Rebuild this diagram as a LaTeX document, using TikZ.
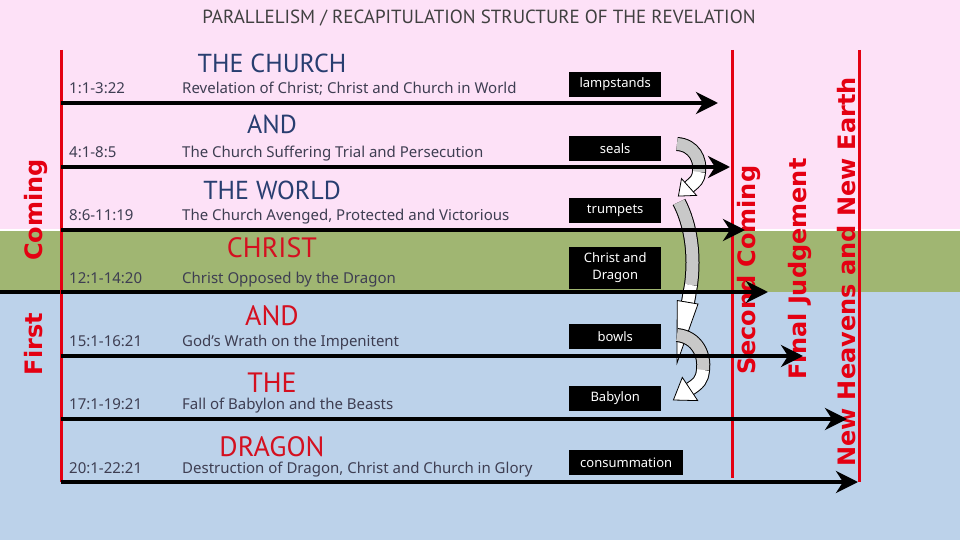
\documentclass[tikz,border=0pt]{standalone}
\usepackage{fontspec}
\setmainfont{PT Sans}
\setsansfont{DejaVu Sans}
\newfontfamily\notof{Noto Sans}
\usepackage{tikz}
\usetikzlibrary{arrows.meta}

\definecolor{bgpink}{RGB}{253,225,247}
\definecolor{bggreen}{RGB}{160,182,114}
\definecolor{bgblue}{RGB}{188,210,234}
\definecolor{vred}{RGB}{228,0,18}
\definecolor{headblue}{RGB}{40,62,112}
\definecolor{headred}{RGB}{212,16,32}
\definecolor{txtgray}{RGB}{62,62,82}
\definecolor{titlegray}{RGB}{64,64,64}
\definecolor{bandgray}{RGB}{200,200,200}

\tikzset{
  hdrblue/.style={anchor=base, inner sep=0pt, text=headblue, font=\fontsize{26}{26}\selectfont},
  hdrred/.style={anchor=base, inner sep=0pt, text=headred, font=\fontsize{28}{28}\selectfont},
  reftext/.style={anchor=base west, inner sep=0pt, text=txtgray, font=\notof\fontsize{15}{15}\selectfont},
  desctext/.style={anchor=base west, inner sep=0pt, text=txtgray, font=\notof\fontsize{15}{15}\selectfont},
  tagbox/.style={anchor=south west, fill=black, text=white, inner sep=0pt, minimum width=92pt, minimum height=25pt, align=center, font=\notof\fontsize{13}{17}\selectfont},
  vtext/.style={rotate=90, anchor=base, inner sep=0pt, text=vred, font=\fontsize{24}{24}\selectfont\sffamily\bfseries},
  redline/.style={draw=vred, line width=3pt},
  rowarrow/.style={line width=4.5pt, -{Stealth[length=22pt,width=22pt,inset=7pt]}},
  bandout/.style={draw=black, line width=14pt},
  bandgrey/.style={draw=bandgray, line width=12pt},
  bandwhite/.style={draw=white, line width=12pt},
  bandhead/.style={fill=white, draw=black, line width=0.8pt}
}

\begin{document}
\begin{tikzpicture}[x=1pt, y=-1pt]
\useasboundingbox (0,0) rectangle (960,540);
% background bands
\fill[bgpink] (0,0) rectangle (960,230);
\fill[bggreen] (0,230) rectangle (960,292);
\fill[bgblue] (0,292) rectangle (960,540);
\draw[white, line width=1.5pt] (0,230) -- (960,230);
\draw[black, line width=4pt] (0,292) -- (61,292);

\node[anchor=base, inner sep=0pt, text=titlegray, font=\fontsize{19}{19}\selectfont] (title) at (479,24) {PARALLELISM / RECAPITULATION STRUCTURE OF THE REVELATION};

% vertical labels
\node[vtext] (first) at (42,344) {First};
\node[vtext] (coming) at (42,210) {Coming};
\node[vtext] (second) at (755,270) {Second Coming};
\node[vtext] (final) at (806,269) {Final Judgement};
\node[vtext] (newhe) at (855,272) {New Heavens and New Earth};

\draw[redline] (61,50) -- (61,482);
\draw[redline] (732,50) -- (732,478);
\draw[redline] (859,50) -- (859,482);

% rows
\node[hdrblue] (hd1) at (272,73) {THE CHURCH};
\node[reftext] (rf1) at (69,93.5) {1:1-3:22};
\node[desctext] (ds1) at (182,93.5) {Revelation of Christ; Christ and Church in World};
\node[tagbox] (tg1) at (569,97) {lampstands};

\node[hdrblue] (hd2) at (272,134) {AND};
\node[reftext] (rf2) at (69,157.5) {4:1-8:5};
\node[desctext] (ds2) at (182,157.5) {The Church Suffering Trial and Persecution};
\node[tagbox] (tg2) at (569,161) {seals};

\node[hdrblue] (hd3) at (272,199) {THE WORLD};
\node[reftext] (rf3) at (69,220.5) {8:6-11:19};
\node[desctext] (ds3) at (182,220.5) {The Church Avenged, Protected and Victorious};
\node[tagbox] (tg3) at (569,223) {trumpets};

\node[hdrred] (hd4) at (272,257) {CHRIST};
\node[reftext] (rf4) at (69,283) {12:1-14:20};
\node[desctext] (ds4) at (182,283) {Christ Opposed by the Dragon};
\node[tagbox, minimum height=42pt] (tg4) at (569,289) {Christ and\\Dragon};

\node[hdrred] (hd5) at (272,325) {AND};
\node[reftext] (rf5) at (69,346.5) {15:1-16:21};
\node[desctext] (ds5) at (182,346.5) {God’s Wrath on the Impenitent};
\node[tagbox] (tg5) at (569,349) {bowls};

\node[hdrred] (hd6) at (272,392) {THE};
\node[reftext] (rf6) at (69,409.5) {17:1-19:21};
\node[desctext] (ds6) at (182,409.5) {Fall of Babylon and the Beasts};
\node[tagbox] (tg6) at (569,411) {Babylon};

\node[hdrred] (hd7) at (272,456) {DRAGON};
\node[reftext] (rf7) at (69,473) {20:1-22:21};
\node[desctext] (ds7) at (182,473) {Destruction of Dragon, Christ and Church in Glory};
\node[tagbox, minimum width=114pt] (tg7) at (569,475) {consummation};

% curved block arrows
\draw[bandout] (677,144) .. controls (694,145) and (701,160) .. (699,172) .. controls (698,180) and (696,181) .. (689,187);
\draw[bandgrey] (677,144) .. controls (694,145) and (701,160) .. (699,172);
\draw[bandwhite] (699,172) .. controls (698,180) and (696,181) .. (689,187);
\filldraw[bandhead] (696.5,195.4) -- (678.4,196.1) -- (681.5,178.6) -- cycle;

\draw[bandout] (679,202) .. controls (691,225) and (695,255) .. (691,285) -- (688,302);
\draw[bandgrey] (679,202) .. controls (691,225) and (695,255) .. (691,285);
\draw[bandwhite] (691,285) -- (688,302);
\filldraw[bandhead] (698,304) -- (677,363) -- (677.2,300.5) -- cycle;

\draw[bandout] (677,335) .. controls (697,337) and (705,355) .. (703,370) .. controls (702,380) and (699,383) .. (690,389);
\draw[bandgrey] (677,335) .. controls (697,337) and (705,355) .. (703,370);
\draw[bandwhite] (703,370) .. controls (702,380) and (699,383) .. (690,389);
\filldraw[bandhead] (697.7,400.6) -- (673.4,400) -- (682.3,377.4) -- cycle;

% row arrows
\coordinate (s1) at (61,103);  \coordinate (e1) at (718,103);
\coordinate (s2) at (61,167);  \coordinate (e2) at (730,167);
\coordinate (s3) at (61,230);  \coordinate (e3) at (745,230);
\coordinate (s4) at (61,292);  \coordinate (e4) at (768,292);
\coordinate (s5) at (61,356);  \coordinate (e5) at (803,356);
\coordinate (s6) at (61,419);  \coordinate (e6) at (847,419);
\coordinate (s7) at (61,482);  \coordinate (e7) at (858,482);
\draw[rowarrow] (s1) -- (e1);
\draw[rowarrow] (s2) -- (e2);
\draw[rowarrow] (s3) -- (e3);
\draw[rowarrow] (s4) -- (e4);
\draw[rowarrow] (s5) -- (e5);
\draw[rowarrow] (s6) -- (e6);
\draw[rowarrow] (s7) -- (e7);
\end{tikzpicture}
\end{document}
